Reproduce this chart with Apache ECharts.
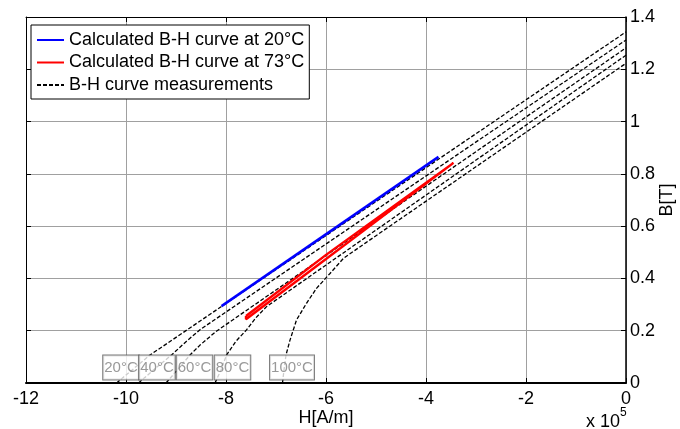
<!DOCTYPE html>
<html>
<head>
<meta charset="utf-8">
<script src="https://cdn.jsdelivr.net/npm/echarts@6/dist/echarts.min.js"></script>
<style>html,body{margin:0;padding:0;background:#fff;}#c{width:680px;height:429px;}</style>
</head>
<body>
<div id="c"></div>
<script>
// Tick labels
const xTicks = [-12, -10, -8, -6, -4, -2, 0];
const yTicks = [0, 0.2, 0.4, 0.6, 0.8, 1, 1.2, 1.4];
// Measured B-H curves (H in 1e5 A/m, B in T)
const temps = ['20°C', '40°C', '60°C', '80°C', '100°C'];
const curve20 = [[-10.19,0],[-9.52,0.107],[0,1.343]];
const curve40 = [[-9.75,0],[-9.4,0.058],[-9.09,0.107],[-8.8,0.158],[-8.52,0.204],[0,1.312]];
const curve60 = [[-9.2,0],[-8.95,0.055],[-8.72,0.107],[-8.52,0.145],[-8.2,0.197],[0,1.282]];
const curve80 = [[-8.22,0],[-8.1,0.05],[-7.99,0.107],[-7.8,0.16],[-7.59,0.203],[-7.4,0.25],[-7.19,0.292],[0,1.254]];
const curve100 = [[-6.87,0],[-6.84,0.05],[-6.8,0.107],[-6.72,0.164],[-6.59,0.241],[-6.39,0.305],[-6.19,0.362],[-5.92,0.419],[-5.65,0.477],[-5.2,0.537],[0,1.223]];
// Calculated curves
const calc20 = [[-8.09,0.294],[-3.75,0.865]];
const calc73 = [[-7.6,0.256],[-6,0.49],[-3.45,0.842],[-3.47,0.837],[-6,0.474],[-7.6,0.244],[-7.6,0.256]];
// Temperature label anchors
const labelH = [-10.1, -9.38, -8.63, -7.87, -6.68];
const labelB = [0.059, 0.059, 0.059, 0.059, 0.059];

const FONT = 'Liberation Sans, Arial, sans-serif';
const measName = 'B-H curve measurements';
const n20 = 'Calculated B-H curve at 20°C';
const n73 = 'Calculated B-H curve at 73°C';

const measCurves = [curve20, curve40, curve60, curve80, curve100];
const series = measCurves.map(c => ({
  name: measName, type: 'line', data: c, symbol: 'none', smooth: false,
  itemStyle: {color: '#000'},
  lineStyle: {color: '#000', width: 1.3, type: [4, 2]}, z: 2
}));
series.push({name: n20, type: 'line', data: calc20, symbol: 'none',
  itemStyle: {color: '#0000ff'},
  lineStyle: {color: '#0000ff', width: 2.5}, z: 3});
series.push({name: n73, type: 'line', data: calc73, symbol: 'none',
  itemStyle: {color: '#ff0000'},
  lineStyle: {color: '#ff0000', width: 2.4}, z: 3});
series.push({name: 'labels', type: 'scatter', symbolSize: 0, z: 5,
  data: temps.map((t, i) => ({name: t, value: [labelH[i], labelB[i]]})),
  label: {show: true, position: [0, 0], align: 'center', verticalAlign: 'middle',
    formatter: p => p.name,
    color: '#808080', fontSize: 15, fontFamily: FONT, lineHeight: 15,
    backgroundColor: '#fff', borderColor: '#555', borderWidth: 1, padding: [5, 1, 4, 1]},
  silent: true});

const chart = echarts.init(document.getElementById('c'), null, {renderer: 'canvas'});
chart.setOption({
  animation: false,
  backgroundColor: '#fff',
  grid: {left: 26, right: 54, top: 17, bottom: 46, containLabel: false, outerBoundsMode: 'none'},
  legend: {
    data: [n20, n73, measName], orient: 'vertical', left: 31, top: 25,
    itemWidth: 27, itemHeight: 16, itemGap: 4.5, padding: [6, 5, 5, 5],
    borderColor: '#000', borderWidth: 1, backgroundColor: '#fff',
    itemStyle: {opacity: 0},
    textStyle: {fontSize: 18, color: '#000', fontFamily: FONT},
    selectedMode: false
  },
  xAxis: [{
    type: 'value', min: xTicks[0], max: xTicks[xTicks.length - 1], interval: 2,
    position: 'bottom',
    name: 'H[A/m]', nameLocation: 'middle', nameGap: 26, nameMoveOverlap: false,
    nameTextStyle: {fontSize: 18, color: '#000', fontFamily: FONT},
    axisLine: {onZero: false, lineStyle: {color: '#000', width: 2}},
    axisTick: {inside: true, length: 5, lineStyle: {color: '#000'}},
    axisLabel: {fontSize: 18, color: '#000', fontFamily: FONT, margin: 7},
    splitLine: {show: true, lineStyle: {color: '#a0a0a0', width: 1}}
  }, {
    type: 'value', min: xTicks[0], max: xTicks[xTicks.length - 1], interval: 2,
    position: 'top',
    axisLine: {onZero: false, lineStyle: {color: '#000', width: 1}},
    axisTick: {inside: true, length: 5, lineStyle: {color: '#000'}},
    axisLabel: {show: false}, splitLine: {show: false}
  }],
  yAxis: [{
    type: 'value', min: yTicks[0], max: yTicks[yTicks.length - 1], interval: 0.2,
    position: 'right',
    name: 'B[T]', nameLocation: 'middle', nameGap: 32, nameRotate: 90, nameMoveOverlap: false,
    nameTextStyle: {fontSize: 18, color: '#000', fontFamily: FONT},
    axisLine: {show: true, onZero: false, lineStyle: {color: '#000', width: 1.5}},
    axisTick: {show: true, inside: true, length: 5, lineStyle: {color: '#000'}},
    axisLabel: {fontSize: 18, color: '#000', fontFamily: FONT, margin: 4,
      formatter: v => String(Math.round(v * 10) / 10)},
    splitLine: {show: true, lineStyle: {color: '#a0a0a0', width: 1}}
  }, {
    type: 'value', min: yTicks[0], max: yTicks[yTicks.length - 1], interval: 0.2,
    position: 'left',
    axisLine: {show: true, onZero: false, lineStyle: {color: '#000', width: 1}},
    axisTick: {show: true, inside: true, length: 5, lineStyle: {color: '#000'}},
    axisLabel: {show: false}, splitLine: {show: false}
  }],
  graphic: [{
    type: 'text', left: 586, top: 407,
    style: {
      text: '{a|x 10}{b|5}',
      rich: {
        a: {fontSize: 18, fill: '#000', fontFamily: FONT, padding: [6, 0, 0, 0]},
        b: {fontSize: 12, fill: '#000', fontFamily: FONT, verticalAlign: 'top', padding: [0, 0, 8, 0]}
      }
    }
  }],
  series: series
});
</script>
</body>
</html>
